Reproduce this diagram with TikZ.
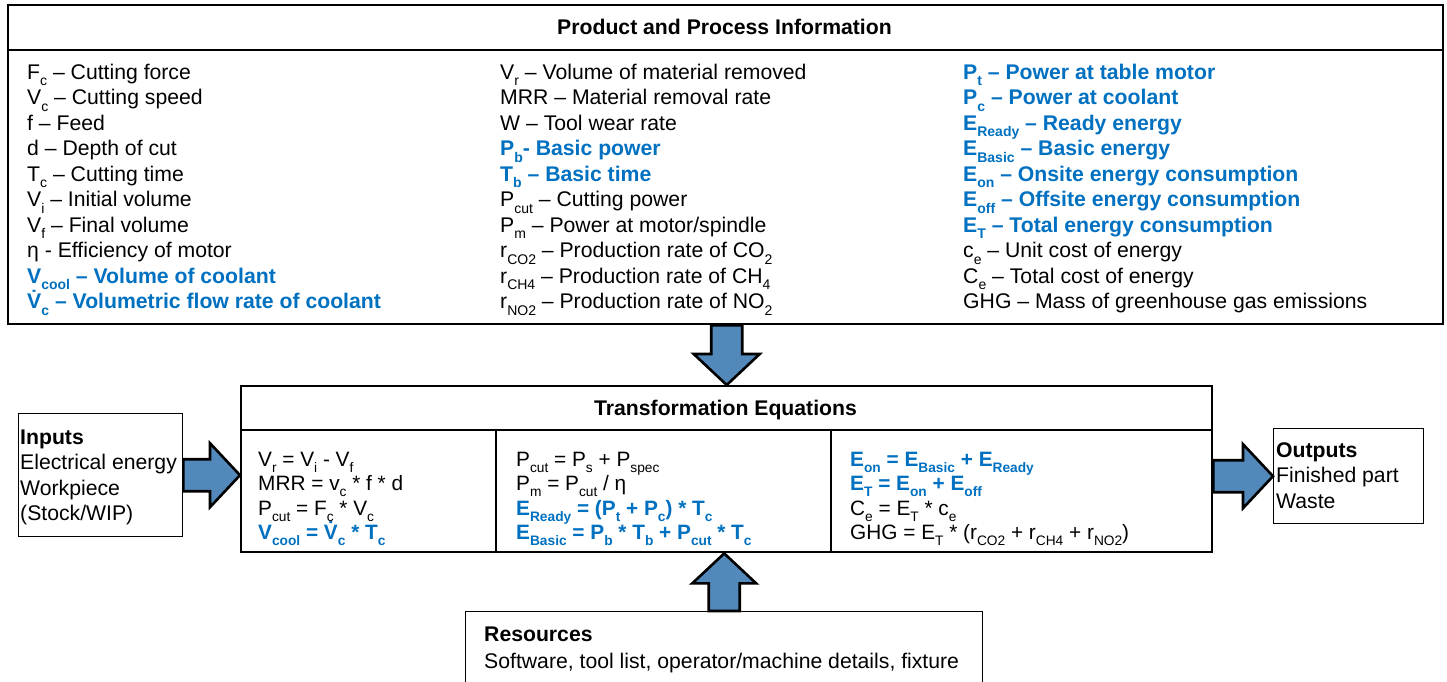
\documentclass[tikz,border=0pt]{standalone}
\usepackage{fontspec}
\usepackage{graphicx}
\setmainfont{Liberation Sans}
\usetikzlibrary{calc}

\definecolor{eqblue}{RGB}{0,112,192}
\definecolor{arrowfill}{RGB}{83,137,186}

% subscript set low and a little large, as in the source slides
\newcommand\sbx[1]{\raisebox{-0.3em}{\scalebox{0.66}{#1}}}
\newcommand\bl{\color{eqblue}\bfseries}
\newcommand\fbig{\fontsize{21.2}{25.5}\selectfont}
\newcommand\feq{\fontsize{20.8}{24.5}\selectfont}

\begin{document}
\begin{tikzpicture}[x=1pt,y=-1pt,
  frame/.style={draw, line width=2.4pt, inner sep=0pt},
  thinframe/.style={draw, line width=1.4pt, inner sep=0pt},
  % multi-line texts: placed by the baseline of their last line
  txt/.style={inner sep=0pt, anchor=base west, align=left, font=\fbig},
  eqtxt/.style={inner sep=0pt, anchor=base west, align=left, font=\feq},
  blockarrow/.style={draw, line width=2.6pt, fill=arrowfill, line join=miter},
]
\useasboundingbox (0,0) rectangle (1447,681);

% ---------- product and process information ----------
\node[frame, minimum width=1435, minimum height=319, anchor=north west] (ppi) at (7,4) {};
\draw[line width=2.4pt] ($(ppi.north west)+(0,46)$) -- ($(ppi.north east)+(0,46)$);
\node[inner sep=0pt, anchor=base, font=\fbig\bfseries] (ppititle) at (724.5,34) {Product and Process Information};

\node[txt] (colA) at (27,308.8) {%
F\sbx{c} – Cutting force\\
V\sbx{c} – Cutting speed\\
f – Feed\\
d – Depth of cut\\
T\sbx{c} – Cutting time\\
V\sbx{i} – Initial volume\\
V\sbx{f} – Final volume\\
η - Efficiency of motor\\
{\bl V\sbx{cool} – Volume of coolant}\\
{\bl \.{V}\sbx{c} – Volumetric flow rate of coolant}};

\node[txt] (colB) at (500,308.8) {%
V\sbx{r} – Volume of material removed\\
MRR – Material removal rate\\
W – Tool wear rate\\
{\bl P\sbx{b}- Basic power}\\
{\bl T\sbx{b} – Basic time}\\
P\sbx{cut} – Cutting power\\
P\sbx{m} – Power at motor/spindle\\
r\sbx{CO2} – Production rate of CO\sbx{2}\\
r\sbx{CH4} – Production rate of CH\sbx{4}\\
r\sbx{NO2} – Production rate of NO\sbx{2}};

\node[txt] (colC) at (963,308.8) {%
{\bl P\sbx{t} – Power at table motor}\\
{\bl P\sbx{c} – Power at coolant}\\
{\bl E\sbx{Ready} – Ready energy}\\
{\bl E\sbx{Basic} – Basic energy}\\
{\bl E\sbx{on} – Onsite energy consumption}\\
{\bl E\sbx{off} – Offsite energy consumption}\\
{\bl E\sbx{T} – Total energy consumption}\\
c\sbx{e} – Unit cost of energy\\
C\sbx{e} – Total cost of energy\\
GHG – Mass of greenhouse gas emissions};

% ---------- transformation equations ----------
\node[frame, minimum width=971, minimum height=166, anchor=north west] (teq) at (240,385) {};
\draw[line width=2.4pt] ($(teq.north west)+(0,45)$) -- ($(teq.north east)+(0,45)$);
\draw[line width=2pt] ($(teq.north west)+(256,45)$) -- ($(teq.south west)+(256,0)$);
\draw[line width=2pt] ($(teq.north west)+(591,45)$) -- ($(teq.south west)+(591,0)$);
\node[inner sep=0pt, anchor=base, font=\fbig\bfseries] (teqtitle) at (725.5,415) {Transformation Equations};

\node[eqtxt] (eqA) at (258,539.5) {%
V\sbx{r} = V\sbx{i} - V\sbx{f}\\
MRR = v\sbx{c} * f * d\\
P\sbx{cut} = F\sbx{c} * V\sbx{c}\\
{\bl V\sbx{cool} = \.{V}\sbx{c} * T\sbx{c}}};

\node[eqtxt] (eqB) at (516,539.5) {%
P\sbx{cut} = P\sbx{s} + P\sbx{spec}\\
P\sbx{m} = P\sbx{cut} / η\\
{\bl E\sbx{Ready} = (P\sbx{t} + P\sbx{c}) * T\sbx{c}}\\
{\bl E\sbx{Basic} = P\sbx{b} * T\sbx{b} + P\sbx{cut} * T\sbx{c}}};

\node[eqtxt] (eqC) at (850,539.5) {%
{\bl E\sbx{on} = E\sbx{Basic} + E\sbx{Ready}}\\
{\bl E\sbx{T} = E\sbx{on} + E\sbx{off}}\\
C\sbx{e} = E\sbx{T} * c\sbx{e}\\
GHG = E\sbx{T} * (r\sbx{CO2} + r\sbx{CH4} + r\sbx{NO2})};

% ---------- inputs, outputs, resources ----------
\node[thinframe, minimum width=164, minimum height=123, anchor=north west] (inp) at (18,413) {};
\node[txt] (inptxt) at (20,520.5) {{\bfseries Inputs}\\Electrical energy\\Workpiece\\(Stock/WIP)};

\node[thinframe, minimum width=150, minimum height=95, anchor=north west] (outp) at (1273,428) {};
\node[txt] (outtxt) at (1276,508) {{\bfseries Outputs}\\Finished part\\Waste};

\node[thinframe, minimum width=517, minimum height=72, anchor=north west] (res) at (465,611) {};
\node[txt, font=\fontsize{21.2}{27}\selectfont] (restxt) at (484,668) {{\bfseries Resources}\\Software, tool list, operator/machine details, fixture};

% ---------- block arrows ----------
% information flows down into the equations
\draw[blockarrow]
  ($(teq.north |- ppi.south)+(-15.5,0)$) -- ($(teq.north)+(-15.5,-31)$) -- ($(teq.north)+(-33,-31)$)
  -- (teq.north) -- ($(teq.north)+(33,-31)$) -- ($(teq.north)+(15.5,-31)$)
  -- ($(teq.north |- ppi.south)+(15.5,0)$) -- cycle;
% inputs flow into the equations
\draw[blockarrow]
  ($(inp.east)+(0,-16)$) -- ($(teq.west |- inp.east)+(-30,-16)$) -- ($(teq.west |- inp.east)+(-30,-32)$)
  -- (teq.west |- inp.east) -- ($(teq.west |- inp.east)+(-30,32)$) -- ($(teq.west |- inp.east)+(-30,16)$)
  -- ($(inp.east)+(0,16)$) -- cycle;
% equations flow out to the outputs
\draw[blockarrow]
  ($(teq.east |- outp.west)+(0,-16)$) -- ($(outp.west)+(-30,-16)$) -- ($(outp.west)+(-30,-32)$)
  -- (outp.west) -- ($(outp.west)+(-30,32)$) -- ($(outp.west)+(-30,16)$)
  -- ($(teq.east |- outp.west)+(0,16)$) -- cycle;
% resources flow up into the equations
\draw[blockarrow]
  ($(res.north)+(-15.5,0)$) -- ($(res.north |- teq.south)+(-15.5,30)$) -- ($(res.north |- teq.south)+(-32,30)$)
  -- (res.north |- teq.south) -- ($(res.north |- teq.south)+(32,30)$) -- ($(res.north |- teq.south)+(15.5,30)$)
  -- ($(res.north)+(15.5,0)$) -- cycle;
\end{tikzpicture}
\end{document}
